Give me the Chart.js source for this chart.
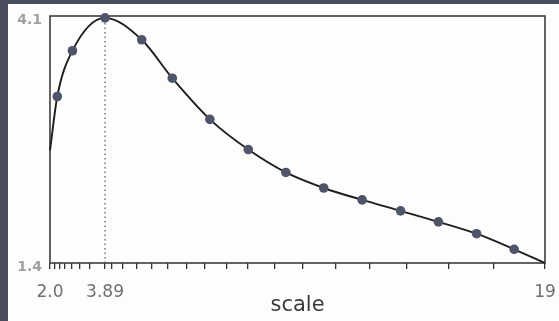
<!DOCTYPE html>
<html>
<head>
<meta charset="utf-8">
<script src="https://cdn.jsdelivr.net/npm/chart.js@4.4.1/dist/chart.umd.min.js"></script>
<style>
  html, body { margin: 0; padding: 0; background: #4b4e5f; width: 559px; height: 321px; overflow: hidden; }
  #panel { position: absolute; left: 8px; top: 4px; width: 551px; height: 317px; background: #fdfdfd; }
</style>
</head>
<body>
<div id="panel"><canvas id="scaleChart"></canvas></div>
<script>
// curve through the sampled scales (first and last points have no marker)
const curveX = [2.0, 2.25, 2.77, 3.89, 5.15, 6.20, 7.49, 8.81, 10.10, 11.40, 12.72, 14.04, 15.34, 16.65, 17.94, 19.0];
const curveY = [2.63, 3.22, 3.72, 4.08, 3.84, 3.42, 2.97, 2.64, 2.39, 2.22, 2.09, 1.97, 1.85, 1.72, 1.55, 1.40];
const peakX = 3.89;

// axis ticks
const xTicks = [2.0, 2.17, 2.34, 2.51, 2.76, 3.03, 3.37, 3.89, 4.13, 4.51, 4.99, 5.50, 6.05, 6.70,
  7.32, 8.07, 8.80, 9.72, 10.68, 11.82, 12.98, 14.25, 15.69, 17.24, 19.0];
const xLabels = { "2": "2.0", "3.89": "3.89", "19": "19" };
const yTicks = [1.4, 4.1];
const yLabels = { "1.4": "1.4", "4.1": "4.1" };

const X_MIN = 2.0, X_MAX = 19.0, Y_MIN = 1.4, Y_MAX = 4.1;

// === marco del área ===
const framePlugin = {
  id: "frame",
  beforeDatasetsDraw(chart) {
    const a = chart.chartArea;
    const ctx = chart.ctx;
    ctx.save();
    ctx.strokeStyle = "#3c3c3c";
    ctx.lineWidth = 1.6;
    ctx.strokeRect(a.left, a.top, a.right - a.left, a.bottom - a.top);
    ctx.restore();
  },
};

const curvePoints = curveX.map((x, i) => ({ x: x, y: curveY[i] }));
const radii = curveX.map((x, i) => (i === 0 || i === curveX.length - 1 ? 0 : 4.8));

new Chart(document.getElementById("scaleChart"), {
  type: "scatter",
  data: {
    datasets: [
      {
        label: "peak",
        data: [{ x: peakX, y: Y_MIN }, { x: peakX, y: Y_MAX }],
        showLine: true,
        borderColor: "#555",
        borderWidth: 1.2,
        borderDash: [1.5, 3],
        pointRadius: 0,
      },
      {
        label: "curve",
        data: curvePoints,
        showLine: true,
        cubicInterpolationMode: "monotone",
        borderColor: "#1e1e1e",
        borderWidth: 1.9,
        pointRadius: radii,
        pointBackgroundColor: "#4f5469",
        pointBorderColor: "#4f5469",
        pointBorderWidth: 0,
        clip: false,
      },
    ],
  },
  options: {
    responsive: true,
    maintainAspectRatio: false,
    animation: false,
    events: [],
    layout: { padding: { left: 0, right: 14, top: 12, bottom: 0 } },
    plugins: { legend: { display: false }, tooltip: { enabled: false } },
    scales: {
      x: {
        type: "linear",
        min: X_MIN,
        max: X_MAX,
        afterBuildTicks: (s) => { s.ticks = xTicks.map(v => ({ value: v })); },
        afterFit: (s) => { s.height = 58; s.paddingLeft = 0; s.paddingRight = 0; },
        grid: { drawOnChartArea: false, drawTicks: true, tickLength: 6, tickColor: "#333", lineWidth: 1.3 },
        border: { display: false },
        ticks: {
          autoSkip: false,
          maxRotation: 0,
          padding: 13,
          color: "#707070",
          font: { family: "DejaVu Sans", size: 17 },
          callback: (v) => xLabels[String(v)] || "",
        },
        title: {
          display: true,
          text: "scale",
          color: "#3a3a3a",
          font: { family: "DejaVu Sans", size: 21 },
          padding: { top: 0, bottom: 3 },
        },
      },
      y: {
        type: "linear",
        min: Y_MIN,
        max: Y_MAX,
        afterBuildTicks: (s) => { s.ticks = yTicks.map(v => ({ value: v })); },
        afterFit: (s) => { s.width = 42; s.paddingTop = 0; s.paddingBottom = 0; },
        grid: { display: false, drawTicks: false },
        border: { display: false },
        ticks: {
          padding: 8,
          labelOffset: 4,
          color: "#a0a0a0",
          font: { family: "DejaVu Sans", size: 14, weight: "bold" },
          callback: (v) => yLabels[String(v)] || "",
        },
      },
    },
  },
  plugins: [framePlugin],
});
</script>
</body>
</html>
